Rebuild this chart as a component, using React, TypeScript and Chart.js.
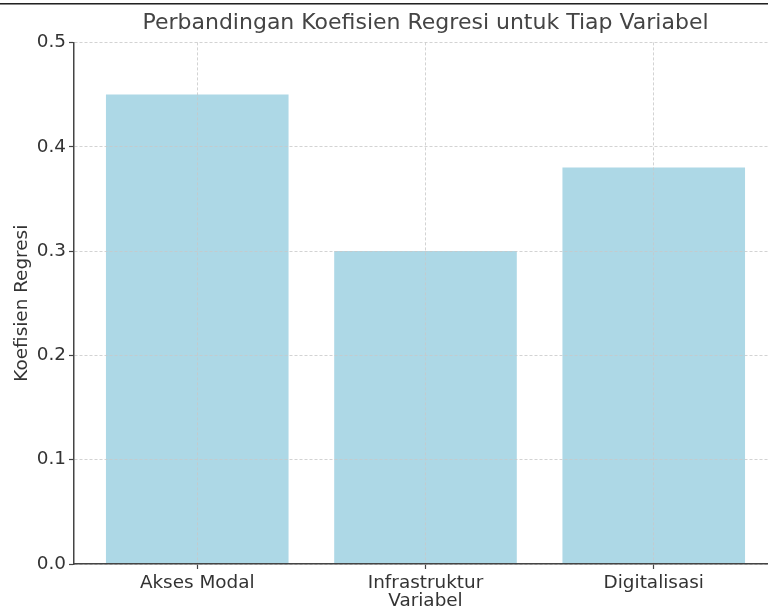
import React, { useEffect, useRef } from "react";
import { Chart, registerables } from "chart.js";

Chart.register(...registerables);

const categories: string[] = ["Akses Modal", "Infrastruktur", "Digitalisasi"];
const coefficients: number[] = [0.45, 0.3, 0.38];
const yTickValues: number[] = [0, 0.1, 0.2, 0.3, 0.4, 0.5];

const titleText = "Perbandingan Koefisien Regresi untuk Tiap Variabel";
const xTitle = "Variabel";
const yTitle = "Koefisien Regresi";

const FONT = "'DejaVu Sans', sans-serif";

export default function App() {
  const ref = useRef<HTMLCanvasElement | null>(null);

  useEffect(() => {
    if (!ref.current) return;
    const chart = new Chart(ref.current, {
      type: "bar",
      data: {
        datasets: [
          {
            label: yTitle,
            data: coefficients.map((v, i) => ({ x: i, y: v })),
            backgroundColor: "#ADD8E6",
            borderWidth: 0,
            barPercentage: 0.8,
            categoryPercentage: 1.0,
          },
        ],
      },
      options: {
        animation: false,
        responsive: false,
        devicePixelRatio: 1,
        layout: { padding: { left: 0, right: 75, top: 0, bottom: 0 } },
        plugins: {
          legend: { display: false },
          tooltip: { enabled: false },
          title: {
            display: true,
            fullSize: false,
            text: titleText,
            color: "#444",
            font: { family: FONT, size: 22, weight: "normal" },
            padding: { top: 10, bottom: 6 },
          },
        },
        scales: {
          x: {
            type: "linear",
            min: -0.54,
            max: 2.54,
            offset: false,
            afterBuildTicks: (scale: any) => {
              scale.ticks = categories.map((_, i) => ({ value: i }));
            },
            afterFit: (scale: any) => {
              scale.height = 46;
            },
            ticks: {
              autoSkip: false,
              maxRotation: 0,
              color: "#333",
              padding: 3,
              font: { family: FONT, size: 18.4 },
              callback: (v: any) => categories[Number(v)] ?? "",
            },
            grid: {
              offset: false,
              color: "rgba(200,200,200,0.8)",
              lineWidth: 1,
              tickLength: 5,
              tickColor: "#444",
              tickWidth: 1.2,
              tickBorderDash: [],
              z: 1,
            },
            border: { display: true, color: "#444", width: 1.5, dash: [3, 2], z: 2 },
            title: {
              display: true,
              text: xTitle,
              color: "#333",
              font: { family: FONT, size: 18.4 },
              padding: { top: 0, bottom: -2 },
            },
          },
          y: {
            type: "linear",
            min: 0,
            max: 0.5,
            afterBuildTicks: (scale: any) => {
              scale.ticks = yTickValues.map((v) => ({ value: v }));
            },
            afterFit: (scale: any) => {
              scale.width = 74;
            },
            ticks: {
              color: "#333",
              padding: 3,
              font: { family: FONT, size: 18.4 },
              callback: (v: any) => Number(v).toFixed(1),
            },
            grid: {
              color: "rgba(200,200,200,0.8)",
              lineWidth: 1,
              tickLength: 5,
              tickColor: "#444",
              tickWidth: 1.2,
              tickBorderDash: [],
              z: 1,
            },
            border: { display: true, color: "#444", width: 1.5, dash: [3, 2], z: 2 },
            title: {
              display: true,
              text: yTitle,
              color: "#333",
              font: { family: FONT, size: 18.4 },
              padding: { top: 11, bottom: 0 },
            },
          },
        },
      },
    });
    return () => chart.destroy();
  }, []);

  return (
    <div
      style={{
        position: "fixed",
        left: 0,
        top: 0,
        width: 768,
        height: 610,
        overflow: "hidden",
        background: "#fff",
      }}
    >
      <canvas ref={ref} width={852} height={610} style={{ display: "block" }} />
      <div style={{ position: "absolute", left: 0, top: 3, width: 768, height: 1, background: "#222" }} />
      <div style={{ position: "absolute", left: 0, top: 4, width: 768, height: 1, background: "#888" }} />
    </div>
  );
}
